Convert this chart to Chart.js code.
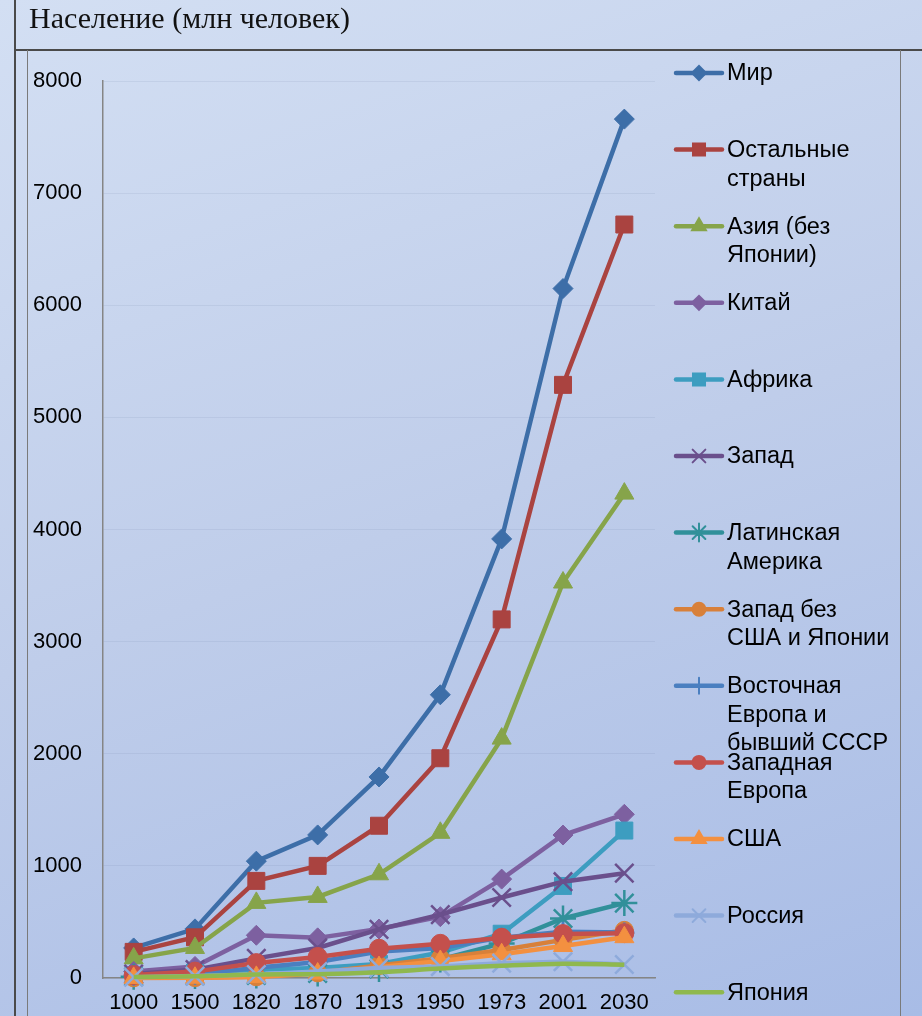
<!DOCTYPE html>
<html>
<head>
<meta charset="utf-8">
<script src="https://cdn.jsdelivr.net/npm/chart.js@4/dist/chart.umd.min.js"></script>
<style>
  html, body { margin: 0; padding: 0; }
  body {
    width: 922px; height: 1016px; overflow: hidden;
    background: linear-gradient(160deg, #d3dff3 0%, #bfcdea 50%, #a8bce6 100%);
  }
  canvas { position: absolute; left: 0; top: 0; }
</style>
</head>
<body>
<canvas id="chart" width="922" height="1016"></canvas>
<script>
// годы и ряды (млн человек)
const years = ['1000', '1500', '1820', '1870', '1913', '1950', '1973', '2001', '2030'];
const yTicks = [0, 1000, 2000, 3000, 4000, 5000, 6000, 7000, 8000];

const mir       = [268, 438, 1042, 1276, 1793, 2526, 3916, 6149, 7660];
const rest      = [233, 363, 866, 1000, 1358, 1960, 3198, 5290, 6720];
const asia      = [175, 268, 670, 723, 925, 1295, 2135, 3527, 4320];
const china     = [59, 103, 381, 358, 437, 547, 882, 1275, 1460];
const africa    = [17, 46, 74, 90, 125, 227, 395, 821, 1315];
const west      = [35, 75, 175, 268, 434, 565, 718, 859, 935];
const latam     = [11, 18, 22, 40, 81, 166, 308, 531, 668];
const westNoUsJ = [2, 3, 11, 46, 111, 176, 250, 340, 425];
const eastEur   = [21, 30, 91, 142, 236, 267, 360, 412, 405];
const westEur   = [26, 57, 133, 188, 261, 305, 359, 392, 400];
const usa       = [1, 2, 10, 40, 97, 152, 212, 285, 364];
const russia    = [7, 17, 31, 58, 90, 102, 132, 145, 120];
const japan     = [8, 15, 31, 34, 52, 84, 109, 127, 118];

const names = ['Мир', 'Остальные\nстраны', 'Азия (без\nЯпонии)', 'Китай', 'Африка', 'Запад',
  'Латинская\nАмерика', 'Запад без\nСША и Японии', 'Восточная\nЕвропа и\nбывший СССР',
  'Западная\nЕвропа', 'США', 'Россия', 'Япония'];
const series = [mir, rest, asia, china, africa, west, latam, westNoUsJ, eastEur, westEur, usa, russia, japan];

const colors = ['#3d6ea8', '#aa4340', '#86a44a', '#7d60a0', '#3d9dc0', '#6a4f8c', '#31909a',
  '#d8803a', '#4a7fc0', '#c4504c', '#f39040', '#8eaadb', '#8fb84e'];
const styles = ['rectRot', 'rect', 'triangle', 'rectRot', 'rect', 'crossRot', 'star',
  'circle', 'cross', 'circle', 'triangle', 'crossRot', false];
const radii = [10, 12, 11, 10, 12, 13, 13, 9, 10, 9.5, 11, 13, 0];
const legendRadii = [7, 8.5, 8, 7, 8.5, 9, 9, 6.5, 8, 6.5, 8, 9, 0];
const isStroke = s => s === 'crossRot' || s === 'cross' || s === 'star';

const datasets = series.map((data, i) => ({
  label: names[i],
  data: data,
  borderColor: colors[i],
  backgroundColor: colors[i],
  borderWidth: 4.5,
  pointStyle: styles[i],
  pointRadius: radii[i],
  pointHoverRadius: radii[i],
  pointBorderWidth: isStroke(styles[i]) ? 2.5 : 1,
  tension: i === 12 ? 0.3 : 0,
  clip: false,
  order: -i  // поздние ряды поверх, как в Excel
}));

// рамка таблицы и заголовок
const framePlugin = {
  id: 'frame',
  beforeDraw(chart) {
    const ctx = chart.ctx;
    ctx.save();
    ctx.strokeStyle = '#4a4a4a';
    ctx.lineWidth = 2;
    ctx.beginPath();
    ctx.moveTo(15, 0); ctx.lineTo(15, 1016);
    ctx.moveTo(15, 50); ctx.lineTo(922, 50);
    ctx.stroke();
    ctx.strokeStyle = '#7a7a7a';
    ctx.lineWidth = 1;
    ctx.beginPath();
    ctx.moveTo(27.5, 50); ctx.lineTo(27.5, 1016);
    ctx.moveTo(900.5, 50); ctx.lineTo(900.5, 1016);
    ctx.stroke();
    ctx.fillStyle = '#111';
    ctx.font = '30px "Liberation Serif", "Times New Roman", serif';
    ctx.textBaseline = 'alphabetic';
    ctx.fillText('Население (млн человек)', 29, 28);
    ctx.restore();
  }
};

// легенда справа
const legendPlugin = {
  id: 'sideLegend',
  afterDraw(chart) {
    const ctx = chart.ctx;
    ctx.save();
    ctx.font = '23.5px "Liberation Sans", Arial, sans-serif';
    ctx.textBaseline = 'middle';
    names.forEach((name, i) => {
      const y = 73 + i * 76.6;
      ctx.strokeStyle = colors[i];
      ctx.fillStyle = colors[i];
      ctx.lineWidth = 4.5;
      ctx.lineCap = 'round';
      ctx.beginPath();
      ctx.moveTo(676, y); ctx.lineTo(722, y);
      ctx.stroke();
      if (styles[i]) {
        ctx.lineWidth = 2;
        Chart.helpers.drawPoint(ctx, { pointStyle: styles[i], radius: legendRadii[i], rotation: 0, borderWidth: 2 }, 699, y);
      }
      ctx.fillStyle = '#000';
      name.split('\n').forEach((line, k) => ctx.fillText(line, 727, y + 1 + k * 28.5));
    });
    ctx.restore();
  }
};

new Chart(document.getElementById('chart'), {
  type: 'line',
  data: { labels: years, datasets: datasets },
  plugins: [framePlugin, legendPlugin],
  options: {
    responsive: false,
    animation: false,
    layout: { padding: { top: 81, right: 267, bottom: 0, left: 0 } },
    plugins: { legend: { display: false }, tooltip: { enabled: false } },
    scales: {
      x: {
        offset: true,
        grid: { display: false, drawTicks: false },
        border: { color: '#858585', width: 1.5 },
        ticks: { color: '#000', font: { size: 22, family: '"Liberation Sans", Arial, sans-serif' }, padding: 12, maxRotation: 0 },
        afterFit(scale) { scale.height = 38; }
      },
      y: {
        min: 0, max: 8000,
        afterBuildTicks(scale) { scale.ticks = yTicks.map(v => ({ value: v })); },
        grid: { color: 'rgba(90,110,150,0.10)', drawTicks: false },
        border: { color: '#858585', width: 1.5 },
        ticks: { color: '#000', font: { size: 22, family: '"Liberation Sans", Arial, sans-serif' }, padding: 21,
          callback: v => String(v) },
        afterFit(scale) { scale.width = 103; }
      }
    }
  }
});
</script>
</body>
</html>
